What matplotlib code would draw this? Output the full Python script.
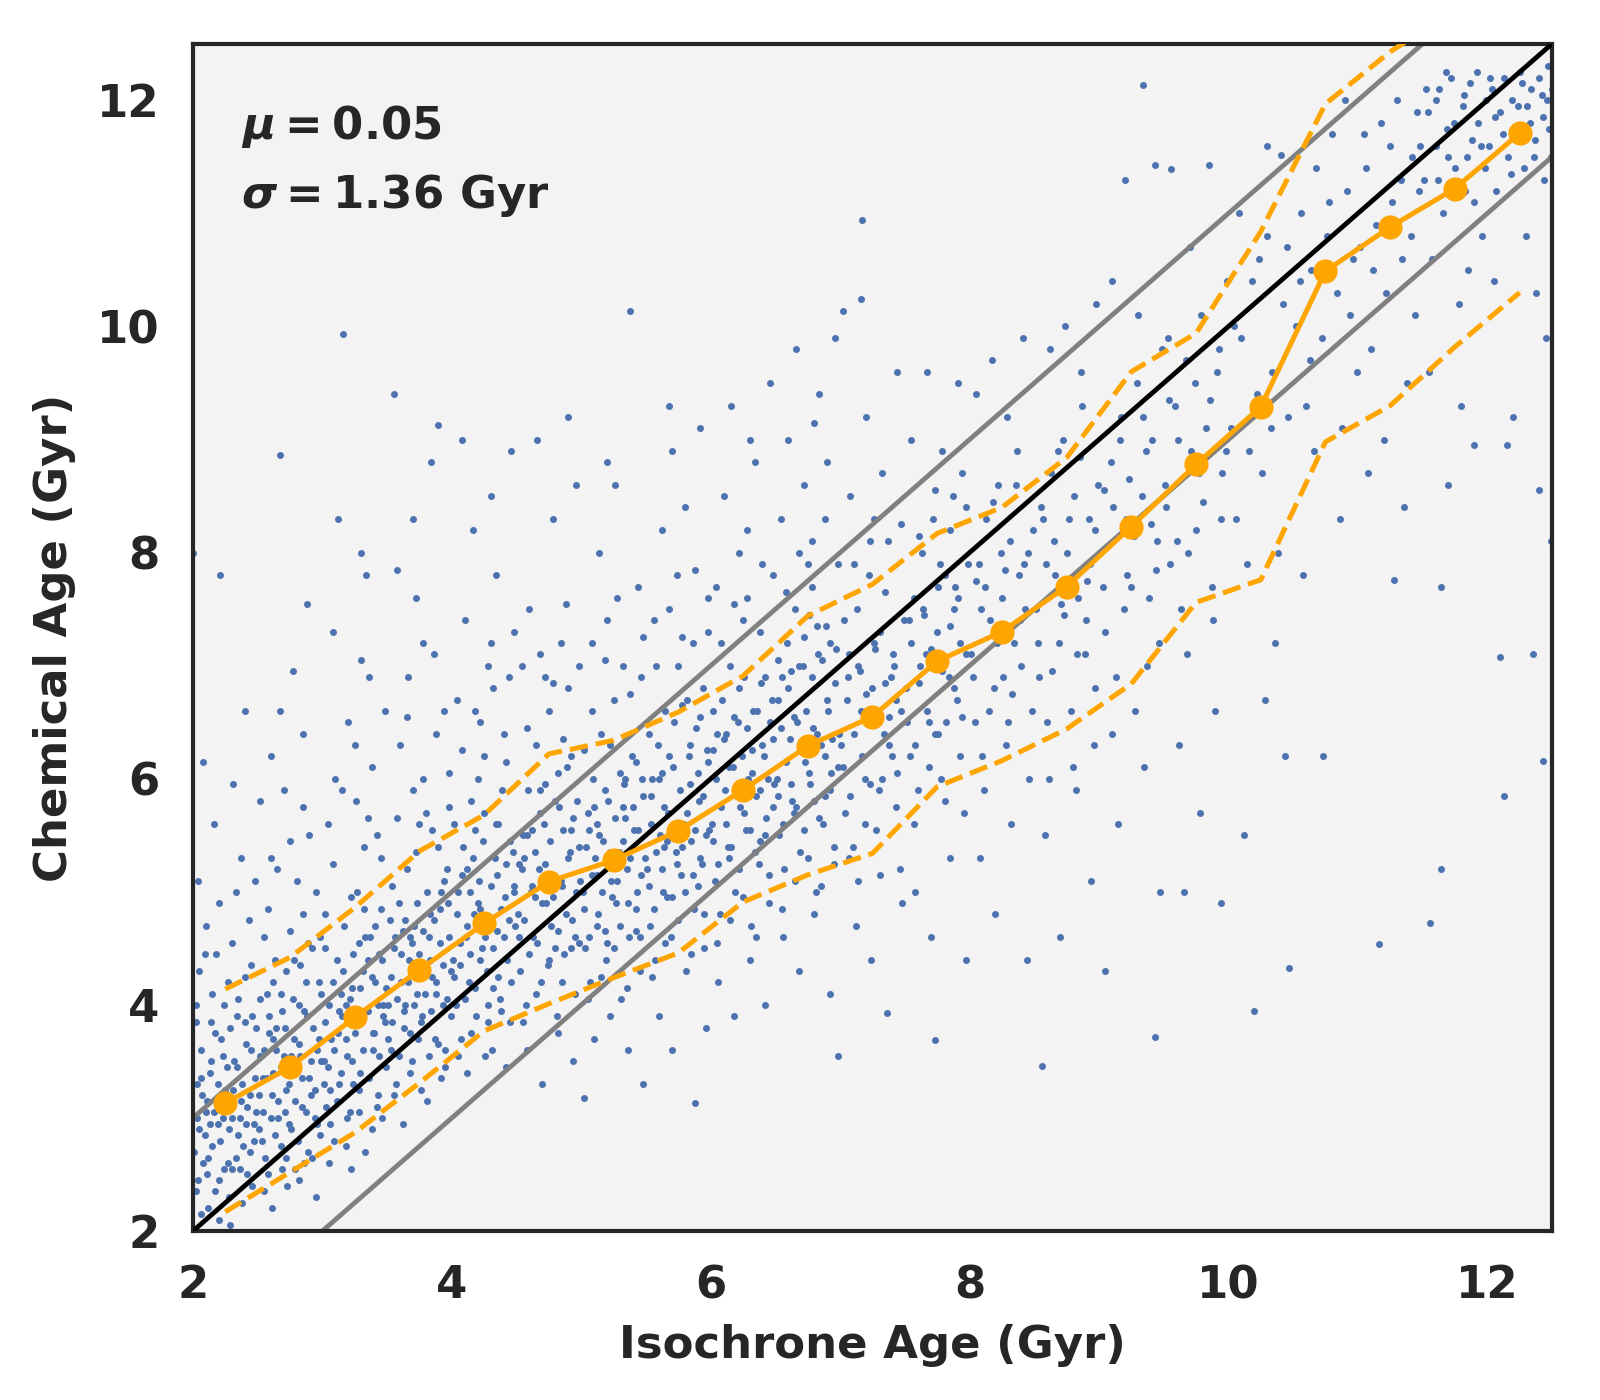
import numpy as np
import matplotlib.pyplot as plt

# binned statistics (bin centres, median, 16th / 84th percentile)
bin_centres = [2.25, 2.75, 3.25, 3.75, 4.25, 4.75, 5.25, 5.75, 6.25, 6.75, 7.25,
               7.75, 8.25, 8.75, 9.25, 9.75, 10.25, 10.75, 11.25, 11.75, 12.25]
median_age = [3.13, 3.45, 3.89, 4.31, 4.72, 5.09, 5.28, 5.54, 5.90, 6.29, 6.55,
              7.04, 7.30, 7.70, 8.23, 8.78, 9.29, 10.49, 10.88, 11.22, 11.71]
lower_age = [2.17, 2.52, 2.87, 3.31, 3.77, 4.01, 4.24, 4.46, 4.91, 5.15, 5.34,
             5.93, 6.16, 6.44, 6.84, 7.56, 7.76, 8.98, 9.30, 9.82, 10.30]
upper_age = [4.14, 4.42, 4.86, 5.36, 5.68, 6.22, 6.34, 6.59, 6.91, 7.44, 7.72,
             8.17, 8.40, 8.84, 9.60, 9.94, 10.84, 11.97, 12.43, 12.80, 13.10]

# individual stars (isochrone age, chemical age)
stars_young = [
    (2.02, 2.35), (2.05, 2.9), (2.03, 3.3), (2.08, 2.6), (2.1, 3.05), (2.06, 3.6), (2.12, 2.2),
    (2.15, 2.75), (2.13, 3.4), (2.18, 3.15), (2.2, 2.45), (2.22, 3.7), (2.19, 2.95), (2.25, 3.25),
    (2.27, 2.6), (2.24, 4.0), (2.3, 3.0), (2.32, 3.5), (2.28, 2.3), (2.35, 2.85), (2.38, 3.3),
    (2.4, 4.25), (2.36, 2.55), (2.42, 3.1), (2.45, 3.6), (2.44, 2.7), (2.48, 3.35), (2.47, 2.95),
    (2.05, 4.3), (2.1, 4.7), (2.16, 5.6), (2.04, 5.1), (2.21, 7.8), (2.0, 8.0), (2.08, 6.15),
    (2.3, 4.55), (2.33, 5.0), (2.4, 3.85), (2.14, 3.85), (2.26, 3.45), (2.37, 3.15), (2.46, 2.4),
    (2.11, 2.5), (2.29, 2.05), (2.43, 4.75), (2.31, 5.95), (2.49, 3.8), (2.02, 4.0), (2.18, 4.45),
    (2.07, 3.2),
    (2.51, 3.2), (2.53, 2.8), (2.55, 3.6), (2.57, 4.1), (2.6, 3.0), (2.62, 3.4), (2.58, 2.5),
    (2.64, 3.8), (2.66, 3.15), (2.68, 2.75), (2.7, 3.55), (2.72, 4.3), (2.74, 3.3), (2.76, 2.9),
    (2.78, 3.7), (2.8, 3.45), (2.82, 4.0), (2.84, 3.1), (2.86, 2.6), (2.88, 3.9), (2.9, 3.35),
    (2.92, 4.5), (2.94, 3.0), (2.96, 3.6), (2.98, 2.85), (2.55, 4.6), (2.6, 5.3), (2.7, 5.9),
    (2.67, 6.6), (2.8, 5.1), (2.85, 4.8), (2.9, 5.5), (2.77, 6.95), (2.88, 7.55), (2.67, 8.86),
    (2.52, 5.8), (2.63, 4.4), (2.73, 2.4), (2.95, 2.3), (2.59, 3.75), (2.69, 3.95), (2.79, 2.55),
    (2.83, 3.55), (2.91, 3.2), (2.97, 4.2), (2.54, 3.35), (2.61, 2.2), (2.75, 4.65), (2.87, 4.2),
    (2.99, 3.5), (2.71, 3.05),
    (3.01, 3.5), (3.03, 3.1), (3.05, 4.0), (3.07, 3.7), (3.09, 2.8), (3.11, 4.4), (3.13, 3.3),
    (3.15, 3.9), (3.17, 4.7), (3.19, 3.55), (3.21, 3.05), (3.23, 4.15), (3.25, 3.75), (3.27, 5.0),
    (3.29, 3.4), (3.31, 4.3), (3.33, 2.7), (3.35, 3.95), (3.37, 4.6), (3.39, 3.6), (3.41, 4.2),
    (3.43, 3.2), (3.45, 5.3), (3.47, 4.0), (3.49, 3.45), (3.04, 5.6), (3.1, 6.0), (3.16, 9.93),
    (3.2, 6.5), (3.26, 5.8), (3.3, 7.05), (3.36, 6.9), (3.42, 5.5), (3.08, 7.3), (3.12, 8.3),
    (3.34, 7.8), (3.22, 2.55), (3.38, 2.9), (3.46, 3.0), (3.02, 4.5), (3.14, 4.1), (3.24, 3.3),
    (3.32, 4.85), (3.44, 4.45), (3.48, 3.85), (3.06, 3.25), (3.18, 4.0), (3.28, 4.55), (3.4, 3.75),
    (3.35, 5.65),
    (3.51, 4.0), (3.53, 3.6), (3.55, 4.5), (3.57, 3.3), (3.59, 4.9), (3.61, 4.2), (3.63, 3.8),
    (3.65, 5.2), (3.67, 4.4), (3.69, 3.5), (3.71, 4.7), (3.73, 4.1), (3.75, 5.6), (3.77, 3.9),
    (3.79, 4.35), (3.81, 3.15), (3.83, 4.8), (3.85, 4.25), (3.87, 3.7), (3.89, 5.4), (3.91, 4.55),
    (3.93, 4.0), (3.95, 3.45), (3.97, 4.9), (3.99, 4.3), (3.55, 9.4), (3.6, 6.3), (3.66, 6.9),
    (3.72, 7.6), (3.78, 6.0), (3.84, 8.8), (3.89, 9.13), (3.94, 6.6), (3.58, 7.85), (3.7, 5.9),
    (3.8, 5.7), (3.86, 7.1), (3.98, 6.05), (3.62, 2.95), (3.76, 3.25), (3.92, 3.35), (3.54, 5.05),
    (3.68, 4.6), (3.82, 4.6), (3.96, 5.2), (3.64, 4.0), (3.74, 3.7), (3.88, 4.1),
]

stars_mid = [
    (4.01, 4.4), (4.03, 4.0), (4.05, 5.0), (4.07, 3.7), (4.09, 5.4), (4.11, 4.6), (4.13, 4.2),
    (4.15, 5.8), (4.17, 4.8), (4.19, 3.9), (4.21, 5.1), (4.23, 4.5), (4.25, 6.2), (4.27, 4.3),
    (4.29, 4.75), (4.31, 3.6), (4.33, 5.3), (4.35, 4.65), (4.37, 4.05), (4.39, 5.9), (4.41, 4.95),
    (4.43, 4.4), (4.45, 3.85), (4.47, 5.35), (4.49, 4.7), (4.04, 6.7), (4.1, 7.4), (4.16, 8.2),
    (4.22, 6.5), (4.28, 7.0), (4.34, 7.8), (4.4, 6.4), (4.46, 8.9), (4.08, 9.0), (4.2, 6.0),
    (4.3, 7.2), (4.44, 6.9), (4.12, 3.4), (4.26, 3.55), (4.42, 3.45), (4.06, 4.55), (4.18, 5.55),
    (4.32, 4.15), (4.48, 5.05), (4.14, 5.0), (4.36, 5.6),
    (4.51, 4.8), (4.53, 4.3), (4.55, 5.5), (4.57, 4.0), (4.59, 5.9), (4.61, 5.0), (4.63, 4.6),
    (4.65, 6.3), (4.67, 5.2), (4.69, 4.2), (4.71, 5.6), (4.73, 4.9), (4.75, 6.6), (4.77, 4.7),
    (4.79, 5.15), (4.81, 3.9), (4.83, 5.75), (4.85, 5.05), (4.87, 4.45), (4.89, 6.1), (4.91, 5.35),
    (4.93, 4.75), (4.95, 4.1), (4.97, 5.8), (4.99, 5.1), (4.54, 7.0), (4.6, 7.5), (4.66, 9.0),
    (4.72, 6.9), (4.78, 8.3), (4.84, 7.2), (4.9, 6.8), (4.96, 8.6), (4.58, 3.6), (4.7, 3.3),
    (4.82, 3.75), (4.94, 3.5), (4.56, 5.3), (4.68, 5.9), (4.8, 4.5), (4.92, 5.55), (4.64, 4.95),
    (4.86, 6.35), (4.98, 4.55),
    (5.01, 5.0), (5.03, 4.5), (5.05, 5.7), (5.07, 4.2), (5.09, 6.0), (5.11, 5.3), (5.13, 4.8),
    (5.15, 6.4), (5.17, 5.45), (5.19, 4.4), (5.21, 5.8), (5.23, 5.1), (5.25, 6.7), (5.27, 4.9),
    (5.29, 5.35), (5.31, 4.05), (5.33, 5.95), (5.35, 5.2), (5.37, 4.6), (5.39, 6.2), (5.41, 5.55),
    (5.43, 5.0), (5.45, 4.3), (5.47, 6.0), (5.49, 5.3), (5.02, 3.18), (5.08, 7.2), (5.14, 8.0),
    (5.2, 7.4), (5.26, 8.6), (5.32, 7.0), (5.38, 10.14), (5.44, 7.7), (5.1, 3.7), (5.22, 3.9),
    (5.36, 3.6), (5.48, 3.3), (5.06, 5.55), (5.18, 4.65), (5.3, 6.05), (5.42, 4.85), (5.12, 5.15),
    (5.34, 5.65), (5.46, 6.9),
    (5.51, 5.2), (5.53, 4.7), (5.55, 6.0), (5.57, 4.4), (5.59, 6.3), (5.61, 5.5), (5.63, 5.0),
    (5.65, 6.6), (5.67, 5.7), (5.69, 4.6), (5.71, 6.1), (5.73, 5.35), (5.75, 7.0), (5.77, 5.15),
    (5.79, 5.6), (5.81, 4.3), (5.83, 6.2), (5.85, 5.45), (5.87, 4.85), (5.89, 6.45), (5.91, 5.8),
    (5.93, 5.25), (5.95, 4.5), (5.97, 6.25), (5.99, 5.55), (5.56, 7.4), (5.62, 8.2), (5.68, 9.3),
    (5.74, 7.8), (5.8, 8.4), (5.86, 7.2), (5.92, 9.1), (5.98, 7.6), (5.6, 3.9), (5.7, 3.6),
    (5.88, 3.13), (5.96, 3.8), (5.54, 5.85), (5.66, 4.95), (5.78, 6.65), (5.9, 5.05), (5.64, 5.4),
    (5.84, 5.95), (5.94, 6.8),
    (6.01, 5.6), (6.03, 5.1), (6.05, 6.4), (6.07, 4.8), (6.09, 6.7), (6.11, 5.9), (6.13, 5.4),
    (6.15, 7.0), (6.17, 6.1), (6.19, 5.0), (6.21, 6.5), (6.23, 5.75), (6.25, 7.4), (6.27, 5.55),
    (6.29, 6.0), (6.31, 4.7), (6.33, 6.6), (6.35, 5.85), (6.37, 5.25), (6.39, 6.85), (6.41, 6.2),
    (6.43, 5.65), (6.45, 4.9), (6.47, 6.7), (6.49, 5.95), (6.04, 7.7), (6.1, 8.5), (6.16, 9.3),
    (6.22, 8.0), (6.28, 7.6), (6.34, 8.8), (6.4, 7.9), (6.46, 9.5), (6.06, 4.2), (6.18, 3.9),
    (6.3, 4.4), (6.42, 4.0), (6.02, 6.25), (6.14, 5.3), (6.26, 6.9), (6.38, 5.45), (6.48, 6.35),
    (6.51, 6.0), (6.53, 5.5), (6.55, 6.9), (6.57, 5.2), (6.59, 7.2), (6.61, 6.35), (6.63, 5.8),
    (6.65, 7.5), (6.67, 6.5), (6.69, 5.35), (6.71, 7.0), (6.73, 6.15), (6.75, 7.9), (6.77, 5.95),
    (6.79, 6.45), (6.81, 5.0), (6.83, 7.1), (6.85, 6.3), (6.87, 5.6), (6.89, 7.35), (6.91, 6.6),
    (6.93, 6.05), (6.95, 5.25), (6.97, 7.15), (6.99, 6.4), (6.54, 8.3), (6.6, 9.0), (6.66, 9.8),
    (6.72, 8.6), (6.78, 8.1), (6.84, 9.4), (6.9, 8.8), (6.96, 9.9), (6.56, 4.6), (6.68, 4.3),
    (6.8, 4.8), (6.92, 4.1), (6.98, 3.55), (6.52, 6.7), (6.64, 5.7), (6.76, 7.45), (6.88, 5.85),
]

stars_old = [
    (7.01, 6.3), (7.04, 5.7), (7.07, 7.1), (7.1, 5.4), (7.13, 7.5), (7.16, 6.6), (7.19, 6.0),
    (7.22, 7.8), (7.25, 6.8), (7.28, 5.55), (7.31, 7.3), (7.34, 6.4), (7.37, 8.1), (7.4, 6.2),
    (7.43, 6.7), (7.46, 5.2), (7.49, 7.4), (7.02, 10.14), (7.16, 10.24), (7.17, 10.94), (7.08, 8.5),
    (7.2, 9.2), (7.32, 8.7), (7.44, 9.6), (7.12, 4.7), (7.24, 4.4), (7.36, 3.93), (7.48, 4.9),
    (7.06, 6.9), (7.3, 5.9), (7.42, 7.0), (7.14, 5.1), (7.38, 6.55), (7.26, 8.3),
    (7.51, 6.8), (7.54, 6.2), (7.57, 7.6), (7.6, 5.9), (7.63, 8.0), (7.66, 7.1), (7.69, 6.5),
    (7.72, 8.3), (7.75, 7.3), (7.78, 6.0), (7.81, 7.8), (7.84, 6.9), (7.87, 8.5), (7.9, 6.7),
    (7.93, 7.2), (7.96, 5.7), (7.99, 7.9), (7.55, 9.0), (7.67, 9.6), (7.79, 8.9), (7.91, 9.5),
    (7.58, 5.0), (7.7, 4.6), (7.73, 3.69), (7.85, 5.3), (7.97, 4.4), (7.62, 7.0), (7.76, 6.4),
    (7.88, 7.5), (7.94, 8.7),
    (8.01, 7.1), (8.04, 6.5), (8.07, 7.9), (8.1, 6.2), (8.13, 8.3), (8.16, 7.4), (8.19, 6.8),
    (8.22, 8.6), (8.25, 7.6), (8.28, 6.3), (8.31, 8.1), (8.34, 7.2), (8.37, 8.9), (8.4, 7.0),
    (8.43, 7.5), (8.46, 6.0), (8.49, 8.2), (8.05, 9.4), (8.17, 9.7), (8.29, 9.2), (8.41, 9.9),
    (8.08, 5.3), (8.2, 4.8), (8.32, 5.6), (8.44, 4.4), (8.12, 7.7), (8.26, 6.9), (8.38, 7.8),
    (8.51, 7.5), (8.54, 6.9), (8.57, 8.3), (8.6, 6.5), (8.63, 8.7), (8.66, 7.8), (8.69, 7.2),
    (8.72, 9.0), (8.75, 8.0), (8.78, 6.6), (8.81, 8.5), (8.84, 7.6), (8.87, 9.3), (8.9, 7.4),
    (8.93, 7.9), (8.96, 6.3), (8.99, 8.6), (8.56, 3.46), (8.62, 9.8), (8.74, 10.0), (8.86, 9.6),
    (8.98, 10.2), (8.58, 5.5), (8.7, 4.6), (8.82, 5.9), (8.94, 5.1), (8.65, 8.1), (8.89, 7.1),
    (9.01, 8.0), (9.05, 7.3), (9.09, 8.8), (9.13, 6.9), (9.17, 9.2), (9.21, 8.3), (9.25, 7.7),
    (9.29, 9.5), (9.33, 8.5), (9.37, 7.0), (9.41, 9.0), (9.45, 8.1), (9.49, 9.8), (9.05, 4.3),
    (9.34, 12.14), (9.2, 11.3), (9.43, 11.43), (9.1, 10.4), (9.3, 10.1), (9.43, 3.72), (9.15, 5.6),
    (9.35, 6.1), (9.47, 5.0), (9.23, 8.65), (9.39, 7.6),
    (9.51, 8.6), (9.55, 7.9), (9.59, 9.3), (9.63, 7.5), (9.67, 9.7), (9.71, 8.9), (9.75, 8.2),
    (9.79, 10.1), (9.83, 9.1), (9.87, 7.7), (9.91, 9.6), (9.95, 8.7), (9.99, 10.4), (9.56, 11.39),
    (9.85, 11.43), (9.7, 10.7), (9.62, 6.3), (9.78, 5.7), (9.9, 6.6), (9.66, 5.0), (9.94, 4.9),
    (9.53, 9.9),
    (10.02, 9.1), (10.06, 8.3), (10.1, 9.9), (10.14, 7.9), (10.18, 10.4), (10.22, 9.4),
    (10.26, 8.7), (10.3, 10.8), (10.34, 9.6), (10.38, 8.0), (10.42, 10.2), (10.46, 9.2),
    (10.41, 11.52), (10.08, 11.0), (10.3, 11.6), (10.2, 3.95), (10.47, 4.33), (10.12, 5.5),
    (10.28, 6.7), (10.44, 6.2), (10.36, 7.2),
    (10.52, 10.0), (10.56, 11.0), (10.6, 9.3), (10.64, 10.5), (10.68, 11.4), (10.72, 9.9),
    (10.76, 10.8), (10.8, 11.7), (10.84, 10.3), (10.88, 9.1), (10.92, 11.2), (10.96, 10.6),
    (10.73, 6.2), (10.58, 7.8), (10.86, 8.3), (10.66, 8.9), (10.9, 12.0), (10.99, 9.6),
    (11.02, 10.7), (11.06, 11.4), (11.1, 9.8), (11.14, 10.9), (11.18, 11.8), (11.22, 10.3),
    (11.26, 11.1), (11.3, 12.0), (11.34, 10.6), (11.38, 9.5), (11.42, 11.5), (11.46, 11.9),
    (11.16, 4.54), (11.28, 7.76), (11.08, 8.7), (11.36, 8.4), (11.2, 9.0), (11.44, 10.1),
    (11.51, 11.3), (11.54, 11.9), (11.57, 10.6), (11.6, 11.6), (11.63, 12.1), (11.66, 11.0),
    (11.69, 11.75), (11.72, 12.2), (11.75, 11.4), (11.78, 10.2), (11.81, 11.95), (11.84, 11.5),
    (11.87, 12.15), (11.9, 11.1), (11.93, 11.8), (11.96, 10.8), (11.99, 12.0), (11.56, 4.72),
    (11.64, 5.2), (11.64, 7.7), (11.7, 8.6), (11.8, 9.3), (11.9, 8.95), (11.55, 9.6), (11.85, 10.5),
    (12.01, 11.6), (12.04, 12.1), (12.07, 11.2), (12.1, 11.9), (12.13, 12.2), (12.16, 11.5),
    (12.19, 12.0), (12.22, 11.75), (12.25, 12.25), (12.28, 11.4), (12.31, 11.95), (12.34, 12.1),
    (12.37, 11.65), (12.4, 12.2), (12.43, 11.85), (12.46, 12.0), (12.49, 11.5), (12.13, 5.85),
    (12.1, 7.08), (12.43, 6.16), (12.35, 7.1), (12.4, 8.55), (12.49, 8.1), (12.05, 10.4),
    (12.2, 9.2), (12.3, 10.8), (12.45, 9.9), (12.15, 8.95), (12.38, 10.3), (12.47, 12.3),
]

# densest part of the cloud, close to the running median
stars_core = [
    (2.01, 2.7), (2.03, 3.0), (2.04, 2.45), (2.06, 3.35), (2.09, 2.85), (2.11, 3.15), (2.12, 2.65),
    (2.14, 3.5), (2.16, 3.05), (2.17, 2.35), (2.19, 3.3), (2.21, 2.8), (2.23, 3.55), (2.24, 2.55),
    (2.26, 3.1), (2.28, 2.9), (2.29, 3.8), (2.31, 3.25), (2.33, 2.65), (2.34, 3.45), (2.36, 3.0),
    (2.39, 2.75), (2.41, 3.65), (2.42, 2.5), (2.44, 3.2), (2.46, 3.9), (2.47, 2.8), (2.49, 3.05),
    (2.15, 4.1), (2.35, 4.05), (2.2, 2.1), (2.38, 2.25),
    (2.51, 2.9), (2.52, 3.55), (2.54, 3.05), (2.56, 2.65), (2.57, 3.35), (2.59, 3.9), (2.61, 3.2),
    (2.63, 2.85), (2.64, 3.6), (2.66, 3.0), (2.68, 3.45), (2.69, 2.55), (2.71, 3.8), (2.72, 3.25),
    (2.74, 2.95), (2.76, 3.55), (2.77, 4.05), (2.79, 3.15), (2.81, 2.8), (2.82, 3.65), (2.84, 3.35),
    (2.86, 3.95), (2.87, 3.05), (2.89, 2.7), (2.91, 3.5), (2.93, 3.8), (2.94, 3.25), (2.96, 2.95),
    (2.97, 3.7), (2.99, 4.1), (2.62, 4.2), (2.83, 4.35),
    (3.01, 3.3), (3.02, 3.85), (3.04, 3.45), (3.06, 2.95), (3.08, 4.2), (3.09, 3.6), (3.11, 3.15),
    (3.13, 3.95), (3.14, 3.4), (3.16, 4.3), (3.18, 3.7), (3.19, 3.0), (3.21, 4.05), (3.23, 3.5),
    (3.24, 4.45), (3.26, 3.85), (3.28, 3.25), (3.29, 4.15), (3.31, 3.6), (3.33, 4.6), (3.34, 3.95),
    (3.36, 3.35), (3.38, 4.25), (3.39, 3.75), (3.41, 4.7), (3.43, 4.0), (3.44, 3.55), (3.46, 4.4),
    (3.47, 3.9), (3.49, 4.15),
    (3.51, 3.7), (3.53, 4.25), (3.54, 3.85), (3.56, 4.6), (3.58, 4.05), (3.59, 3.55), (3.61, 4.45),
    (3.63, 3.95), (3.64, 4.75), (3.66, 4.2), (3.68, 3.75), (3.69, 4.55), (3.71, 4.0), (3.73, 4.9),
    (3.74, 4.3), (3.76, 3.85), (3.78, 4.65), (3.79, 4.1), (3.81, 5.0), (3.83, 4.4), (3.84, 3.95),
    (3.86, 4.75), (3.88, 4.2), (3.89, 3.65), (3.91, 4.85), (3.93, 4.35), (3.94, 5.1), (3.96, 4.05),
    (3.98, 4.6), (3.99, 3.9),
    (4.02, 4.25), (4.04, 4.8), (4.06, 4.35), (4.08, 5.15), (4.1, 4.05), (4.12, 4.7), (4.14, 4.45),
    (4.16, 5.3), (4.18, 4.15), (4.2, 4.9), (4.22, 4.4), (4.24, 5.45), (4.26, 4.6), (4.28, 4.0),
    (4.3, 5.05), (4.32, 4.5), (4.34, 5.6), (4.36, 4.25), (4.38, 4.85), (4.4, 4.6), (4.42, 5.25),
    (4.44, 4.75), (4.46, 4.2), (4.48, 5.0),
    (4.52, 4.6), (4.54, 5.2), (4.56, 4.75), (4.58, 5.5), (4.6, 4.45), (4.62, 5.05), (4.64, 5.35),
    (4.66, 4.55), (4.68, 5.7), (4.7, 4.9), (4.72, 5.25), (4.74, 4.35), (4.76, 5.45), (4.78, 4.95),
    (4.8, 5.8), (4.82, 4.65), (4.84, 5.1), (4.86, 5.55), (4.88, 4.8), (4.9, 5.3), (4.92, 4.5),
    (4.94, 5.65), (4.96, 5.0), (4.98, 5.4),
    (5.02, 4.85), (5.04, 5.4), (5.06, 4.6), (5.08, 5.15), (5.1, 5.75), (5.12, 4.7), (5.14, 5.5),
    (5.16, 5.0), (5.18, 5.9), (5.2, 4.55), (5.22, 5.35), (5.24, 4.95), (5.26, 5.65), (5.28, 5.1),
    (5.3, 4.7), (5.32, 5.45), (5.34, 6.0), (5.36, 4.9), (5.38, 5.3), (5.4, 5.75), (5.42, 4.65),
    (5.44, 5.55), (5.46, 5.15), (5.48, 5.85),
    (5.52, 5.05), (5.54, 5.6), (5.56, 4.85), (5.58, 5.35), (5.6, 6.0), (5.62, 5.2), (5.64, 5.75),
    (5.66, 5.45), (5.68, 6.2), (5.7, 4.95), (5.72, 5.55), (5.74, 5.25), (5.76, 5.9), (5.78, 5.4),
    (5.8, 5.0), (5.82, 5.7), (5.84, 6.3), (5.86, 5.15), (5.88, 5.55), (5.9, 6.05), (5.92, 5.3),
    (5.94, 5.85), (5.96, 5.5), (5.98, 6.15),
    (6.02, 5.45), (6.04, 6.0), (6.06, 5.25), (6.08, 5.75), (6.1, 6.35), (6.12, 5.6), (6.14, 6.1),
    (6.16, 5.4), (6.18, 6.55), (6.2, 5.85), (6.22, 5.2), (6.24, 6.2), (6.26, 5.7), (6.28, 6.45),
    (6.3, 5.55), (6.32, 6.05), (6.34, 5.35), (6.36, 6.6), (6.38, 5.9), (6.4, 6.3), (6.42, 5.5),
    (6.44, 6.0), (6.46, 6.5), (6.48, 5.75),
    (6.52, 5.85), (6.54, 6.45), (6.56, 5.6), (6.58, 6.15), (6.6, 6.8), (6.62, 5.95), (6.64, 6.55),
    (6.66, 5.75), (6.68, 7.0), (6.7, 6.25), (6.72, 5.55), (6.74, 6.6), (6.76, 6.05), (6.78, 6.9),
    (6.8, 5.8), (6.82, 6.4), (6.84, 5.65), (6.86, 7.05), (6.88, 6.2), (6.9, 6.7), (6.92, 5.9),
    (6.94, 6.35), (6.96, 6.85), (6.98, 6.1),
    (7.02, 6.1), (7.05, 6.7), (7.08, 5.85), (7.11, 6.4), (7.14, 7.0), (7.17, 6.2), (7.2, 6.75),
    (7.23, 5.95), (7.26, 7.2), (7.29, 6.5), (7.32, 6.0), (7.35, 6.85), (7.38, 6.3), (7.41, 7.1),
    (7.44, 6.05), (7.47, 6.6),
    (7.52, 6.5), (7.55, 7.2), (7.58, 6.3), (7.61, 6.85), (7.64, 7.5), (7.67, 6.6), (7.7, 7.15),
    (7.73, 6.4), (7.76, 7.7), (7.79, 6.95), (7.82, 6.5), (7.85, 7.35), (7.88, 6.8), (7.91, 7.6),
    (7.94, 6.55), (7.97, 7.1),
    (8.03, 6.9), (8.09, 7.5), (8.15, 6.6), (8.21, 7.2), (8.27, 7.85), (8.33, 6.75), (8.39, 7.4),
    (8.45, 8.0), (8.53, 7.2), (8.59, 7.9), (8.64, 6.95), (8.71, 7.55), (8.77, 8.3), (8.83, 7.1),
    (8.91, 7.75), (8.97, 8.2),
    (9.03, 7.7), (9.11, 8.4), (9.19, 7.5), (9.27, 8.15), (9.36, 8.9), (9.44, 7.85), (9.52, 8.4),
    (9.61, 9.0), (9.69, 8.0), (9.77, 8.7), (9.86, 9.35), (9.94, 8.3),
    (11.6, 12.0), (11.7, 11.5), (11.82, 12.05), (11.95, 11.6), (12.02, 12.2), (12.12, 11.7),
    (12.24, 11.95), (12.33, 11.8), (12.42, 12.05), (12.48, 11.75), (11.48, 11.6), (11.88, 11.65),
]

# wider halo around the median between the dashed curves
stars_halo = [
    (2.02, 3.85), (2.06, 2.15), (2.09, 4.45), (2.13, 2.95), (2.17, 3.75), (2.2, 4.9), (2.23, 3.0),
    (2.27, 4.2), (2.3, 2.55), (2.34, 3.9), (2.37, 5.3), (2.41, 2.95), (2.45, 4.35), (2.48, 5.1),
    (2.52, 4.05), (2.55, 2.35), (2.58, 4.85), (2.62, 3.7), (2.65, 5.2), (2.68, 4.1), (2.72, 2.65),
    (2.75, 5.45), (2.78, 4.4), (2.82, 2.45), (2.85, 5.75), (2.89, 4.55), (2.92, 2.65), (2.95, 5.0),
    (2.98, 4.6), (2.6, 6.2), (2.85, 6.4), (2.4, 6.6),
    (3.02, 4.8), (3.05, 2.6), (3.08, 5.25), (3.12, 3.75), (3.15, 5.9), (3.18, 2.75), (3.22, 4.95),
    (3.25, 6.3), (3.28, 3.05), (3.32, 5.4), (3.35, 4.4), (3.38, 6.1), (3.42, 3.1), (3.45, 4.85),
    (3.48, 6.6), (3.52, 4.75), (3.55, 3.2), (3.58, 5.65), (3.62, 4.65), (3.65, 6.55), (3.68, 3.4),
    (3.72, 5.35), (3.75, 4.45), (3.78, 7.2), (3.82, 3.55), (3.85, 5.55), (3.88, 6.4), (3.92, 5.0),
    (3.95, 3.6), (3.98, 5.75), (3.3, 8.0), (3.7, 8.3),
    (4.02, 5.6), (4.05, 3.55), (4.08, 6.25), (4.12, 5.2), (4.15, 3.75), (4.18, 6.6), (4.22, 4.85),
    (4.25, 5.7), (4.28, 3.85), (4.32, 6.8), (4.35, 5.15), (4.38, 3.95), (4.42, 6.15), (4.45, 5.45),
    (4.48, 7.3), (4.52, 5.25), (4.55, 3.85), (4.58, 6.45), (4.62, 5.55), (4.65, 4.1), (4.68, 7.1),
    (4.72, 5.95), (4.75, 4.4), (4.78, 6.85), (4.82, 6.05), (4.85, 4.2), (4.88, 7.55), (4.92, 6.2),
    (4.95, 4.6), (4.98, 7.0), (4.3, 8.5), (4.9, 9.2),
    (5.02, 6.25), (5.05, 4.05), (5.08, 6.6), (5.12, 5.6), (5.15, 4.25), (5.18, 7.05), (5.22, 6.3),
    (5.25, 4.5), (5.28, 7.6), (5.32, 5.75), (5.35, 4.15), (5.38, 6.75), (5.42, 6.15), (5.45, 4.6),
    (5.48, 7.25), (5.52, 6.4), (5.55, 4.25), (5.58, 7.0), (5.62, 6.05), (5.65, 4.55), (5.68, 7.5),
    (5.72, 6.5), (5.75, 4.75), (5.78, 7.25), (5.82, 6.7), (5.85, 4.45), (5.88, 7.85), (5.92, 6.55),
    (5.95, 4.8), (5.98, 7.3), (5.2, 8.8), (5.7, 8.9),
    (6.02, 6.6), (6.05, 4.55), (6.08, 7.2), (6.12, 6.4), (6.15, 4.75), (6.18, 7.55), (6.22, 6.8),
    (6.25, 4.95), (6.28, 8.2), (6.32, 6.25), (6.35, 4.6), (6.38, 7.3), (6.42, 6.9), (6.45, 5.15),
    (6.48, 7.8), (6.52, 7.05), (6.55, 4.85), (6.58, 7.65), (6.62, 6.95), (6.65, 5.1), (6.68, 8.0),
    (6.72, 7.25), (6.75, 5.3), (6.78, 7.7), (6.82, 7.35), (6.85, 5.05), (6.88, 8.3), (6.92, 7.2),
    (6.95, 5.4), (6.98, 7.9), (6.3, 9.0), (6.8, 9.15),
    (7.03, 7.4), (7.07, 5.3), (7.11, 7.9), (7.15, 6.95), (7.19, 5.6), (7.23, 8.1), (7.27, 7.15),
    (7.31, 5.15), (7.35, 7.65), (7.39, 6.9), (7.43, 5.75), (7.47, 8.25), (7.53, 7.4), (7.57, 5.6),
    (7.61, 8.15), (7.65, 7.45), (7.69, 6.1), (7.73, 8.55), (7.77, 7.9), (7.81, 5.8), (7.85, 8.2),
    (7.89, 7.7), (7.93, 6.2), (7.97, 8.4), (8.05, 7.75), (8.11, 5.9), (8.18, 8.45), (8.24, 8.0),
    (8.3, 6.5), (8.36, 8.6), (8.42, 7.9), (8.48, 6.6),
    (8.55, 8.4), (8.61, 6.0), (8.68, 8.9), (8.73, 7.45), (8.8, 6.1), (8.85, 8.85), (8.92, 8.3),
    (8.97, 6.8), (9.04, 8.55), (9.1, 6.4), (9.16, 9.0), (9.22, 7.8), (9.28, 6.6), (9.34, 9.2),
    (9.4, 8.25), (9.46, 7.2), (9.54, 9.35), (9.6, 8.1), (9.68, 7.1), (9.74, 9.5), (9.8, 8.45),
    (9.88, 7.4), (9.93, 9.8), (9.98, 8.9),
    (10.04, 10.0), (10.16, 8.9), (10.24, 10.6), (10.33, 9.1), (10.45, 10.7), (10.55, 10.4),
    (10.63, 9.7), (10.78, 11.1), (10.94, 10.1), (11.05, 11.7), (11.12, 10.5), (11.25, 11.6),
    (11.33, 11.3), (11.41, 10.8), (11.47, 11.2), (11.53, 12.1), (11.62, 11.3), (11.68, 12.25),
    (11.74, 11.8), (11.83, 11.2), (11.92, 12.25), (11.98, 11.4), (12.06, 11.85), (12.18, 11.35),
    (12.27, 12.15), (12.36, 11.5), (12.44, 11.3), (12.5, 12.1),
]

mu = 0.05
sigma = 1.36
ticks = [2, 4, 6, 8, 10, 12]

stars = np.array(stars_young + stars_mid + stars_old + stars_core + stars_halo)

plt.rcParams['font.family'] = 'DejaVu Sans'
plt.rcParams['font.weight'] = 'bold'
plt.rcParams['mathtext.fontset'] = 'dejavusans'

fig = plt.figure(figsize=(16 / 3, 14 / 3), dpi=300)
ax = fig.add_axes([0.1206, 0.1207, 0.8494, 0.848])
ax.set_facecolor('#f3f3f3')

ax.scatter(stars[:, 0], stars[:, 1], s=2.8, color='#4c72b0', linewidths=0, zorder=1)

xx = np.array([2.0, 12.5])
ax.plot(xx, xx, color='black', lw=1.15, zorder=3)
ax.plot(xx, xx + 1, color='gray', lw=1.15, zorder=2)
ax.plot(xx, xx - 1, color='gray', lw=1.15, zorder=2)

ax.plot(bin_centres, median_age, color='orange', lw=1.2, marker='o', ms=4.8, zorder=4)
ax.plot(bin_centres, lower_age, color='orange', lw=1.2, ls='--', zorder=4)
ax.plot(bin_centres, upper_age, color='orange', lw=1.2, ls='--', zorder=4)

ax.text(0.035, 0.95, r'$\boldsymbol{\mu} = \mathbf{%.2f}$' % mu, transform=ax.transAxes,
        fontsize=10.8, fontweight='bold', color='#262626', va='top')
ax.text(0.035, 0.892, r'$\boldsymbol{\sigma} = \mathbf{%.2f}$ Gyr' % sigma, transform=ax.transAxes,
        fontsize=10.8, fontweight='bold', color='#262626', va='top')

ax.set_xlim(2, 12.5)
ax.set_ylim(2, 12.5)
ax.set_xticks(ticks)
ax.set_yticks(ticks)
ax.tick_params(length=0, pad=8, labelsize=10.8, labelcolor='#262626')
ax.set_xlabel('Isochrone Age (Gyr)', fontsize=10.8, fontweight='bold', color='#262626', labelpad=4)
ax.set_ylabel('Chemical Age (Gyr)', fontsize=10.8, fontweight='bold', color='#262626', labelpad=5)
for sp in ax.spines.values():
    sp.set_color('#262626')
    sp.set_linewidth(1.0)

fig.savefig('out.png', dpi=300)
